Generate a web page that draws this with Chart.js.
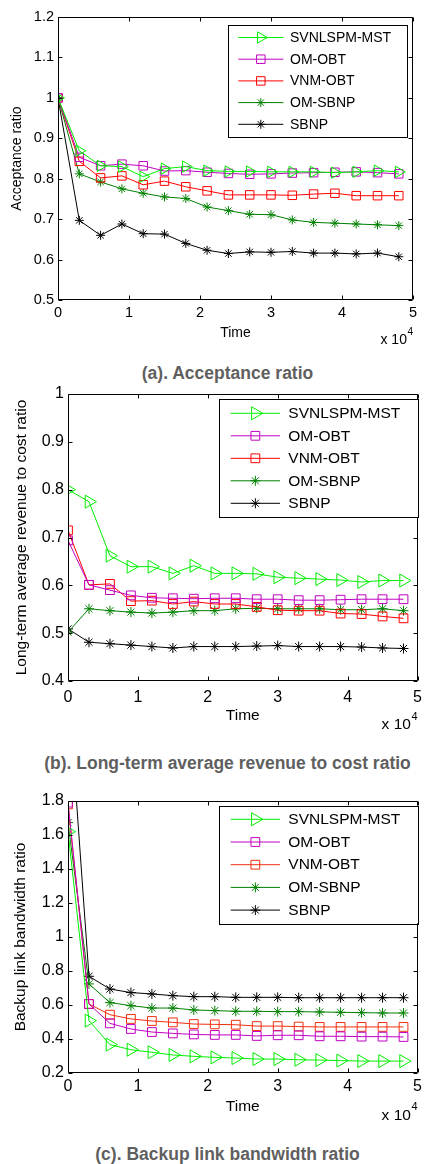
<!DOCTYPE html>
<html>
<head>
<meta charset="utf-8">
<script src="https://cdn.jsdelivr.net/npm/chart.js@4.4.1/dist/chart.umd.min.js"></script>
<style>
  html, body { margin: 0; padding: 0; background: #fff; }
  body { width: 426px; height: 1164px; position: relative; overflow: hidden;
         font-family: 'Liberation Sans', Arial, sans-serif; }
  canvas { position: absolute; left: 0; }
  .cap { position: absolute; left: 27.5px; width: 400px; text-align: center;
         font-weight: bold; font-size: 17.5px; line-height: 20px; color: #5f5f5f; white-space: nowrap; }
</style>
</head>
<body>
<canvas id="chartA" width="426" height="355" style="top:0px"></canvas>
<div class="cap" style="top:362.7px">(a). Acceptance ratio</div>
<canvas id="chartB" width="426" height="355" style="top:380px"></canvas>
<div class="cap" style="top:753.3px">(b). Long-term average revenue to cost ratio</div>
<canvas id="chartC" width="426" height="345" style="top:785px"></canvas>
<div class="cap" style="top:1144px">(c). Backup link bandwidth ratio</div>

<script>
// Simulation time (units of 10^4)
const times = [0, 0.3, 0.6, 0.9, 1.2, 1.5, 1.8, 2.1, 2.4, 2.7, 3.0, 3.3, 3.6, 3.9, 4.2, 4.5, 4.8];

const seriesNames = ['SVNLSPM-MST', 'OM-OBT', 'VNM-OBT', 'OM-SBNP', 'SBNP'];

// (a) Acceptance ratio
const accSvnlspm = [1.000, 0.869, 0.832, 0.830, 0.805, 0.825, 0.830, 0.820, 0.818, 0.818, 0.817, 0.817, 0.817, 0.815, 0.817, 0.820, 0.817];
const accOmObt   = [1.000, 0.853, 0.832, 0.836, 0.832, 0.819, 0.820, 0.816, 0.813, 0.811, 0.812, 0.814, 0.815, 0.816, 0.817, 0.815, 0.812];
const accVnmObt  = [1.000, 0.843, 0.802, 0.807, 0.785, 0.794, 0.780, 0.770, 0.760, 0.760, 0.760, 0.759, 0.762, 0.764, 0.758, 0.758, 0.758];
const accOmSbnp  = [1.000, 0.812, 0.792, 0.775, 0.764, 0.755, 0.751, 0.730, 0.721, 0.712, 0.711, 0.698, 0.692, 0.690, 0.688, 0.686, 0.684];
const accSbnp    = [1.000, 0.697, 0.660, 0.688, 0.664, 0.663, 0.640, 0.623, 0.615, 0.619, 0.618, 0.620, 0.616, 0.616, 0.614, 0.616, 0.607];

// (b) Long-term average revenue to cost ratio
const revSvnlspm = [0.800, 0.775, 0.662, 0.639, 0.639, 0.625, 0.641, 0.625, 0.625, 0.624, 0.617, 0.615, 0.613, 0.611, 0.607, 0.610, 0.610];
const revOmObt   = [0.694, 0.601, 0.590, 0.579, 0.574, 0.573, 0.572, 0.573, 0.573, 0.571, 0.571, 0.569, 0.569, 0.570, 0.571, 0.571, 0.571];
const revVnmObt  = [0.715, 0.601, 0.603, 0.567, 0.568, 0.561, 0.566, 0.561, 0.561, 0.555, 0.548, 0.547, 0.547, 0.541, 0.540, 0.535, 0.531];
const revOmSbnp  = [0.502, 0.551, 0.547, 0.544, 0.542, 0.544, 0.547, 0.547, 0.551, 0.552, 0.551, 0.551, 0.551, 0.549, 0.549, 0.551, 0.547];
const revSbnp    = [0.509, 0.481, 0.478, 0.475, 0.472, 0.469, 0.472, 0.472, 0.472, 0.473, 0.474, 0.472, 0.472, 0.472, 0.471, 0.469, 0.468];

// (c) Backup link bandwidth ratio
const bwSvnlspm = [1.620, 0.508, 0.367, 0.337, 0.322, 0.306, 0.298, 0.292, 0.288, 0.282, 0.282, 0.278, 0.276, 0.273, 0.270, 0.270, 0.270];
const bwOmObt   = [1.790, 0.606, 0.492, 0.459, 0.441, 0.433, 0.427, 0.424, 0.424, 0.418, 0.422, 0.422, 0.416, 0.416, 0.414, 0.414, 0.412];
const bwVnmObt  = [1.780, 0.606, 0.543, 0.518, 0.506, 0.498, 0.488, 0.486, 0.484, 0.476, 0.476, 0.473, 0.471, 0.471, 0.471, 0.471, 0.471];
const bwOmSbnp  = [1.673, 0.724, 0.614, 0.596, 0.582, 0.582, 0.571, 0.567, 0.563, 0.563, 0.561, 0.561, 0.559, 0.557, 0.555, 0.553, 0.553];
const bwSbnp    = [2.500, 0.769, 0.694, 0.673, 0.665, 0.655, 0.649, 0.649, 0.645, 0.645, 0.645, 0.643, 0.643, 0.643, 0.643, 0.643, 0.643];

// Axis tick settings
const xTicks = { min: 0, max: 5, step: 1 };
const yTicksA = { min: 0.5, max: 1.2, step: 0.1 };
const yTicksB = { min: 0.4, max: 1.0, step: 0.1 };
const yTicksC = { min: 0.2, max: 1.8, step: 0.2 };

const FONT = "'Liberation Sans', Arial, sans-serif";
Chart.defaults.font.family = FONT;
Chart.defaults.color = '#000';

// MATLAB-like line styles for each method
function styles(s) {
  return [
    { color: '#00ee00', pointStyle: 'triangle', rot: 90, r: s.tri },
    { color: '#c000c0', pointStyle: 'rect', rot: 0, r: s.sq },
    { color: s.red || '#ff0000', pointStyle: 'rect', rot: 0, r: s.sq },
    { color: '#008000', pointStyle: 'star', rot: 0, r: s.star },
    { color: '#000000', pointStyle: 'star', rot: 0, r: s.star }
  ];
}

function makeDatasets(seriesList, s) {
  const st = styles(s);
  return seriesList.map((vals, i) => ({
    label: seriesNames[i],
    data: times.map((t, k) => ({ x: t, y: vals[k] })),
    borderColor: st[i].color,
    borderWidth: 1,
    pointStyle: st[i].pointStyle,
    pointRotation: st[i].rot,
    pointRadius: st[i].r,
    pointBorderColor: st[i].color,
    pointBackgroundColor: 'rgba(0,0,0,0)',
    pointBorderWidth: 1,
    tension: 0,
    fill: false
  }));
}

// Box, inner tick marks, axis titles, exponent and legend in MATLAB style
const matlabAxes = {
  id: 'matlabAxes',
  afterDatasetsDraw(chart, args, o) {
    const { ctx, chartArea: a } = chart;
    const xs = chart.scales.x, ys = chart.scales.y;
    const L = Math.round(a.left) + 0.5, R = Math.round(a.right) - 0.5;
    const T = Math.round(a.top) + 0.5, B = Math.round(a.bottom) - 0.5;
    ctx.save();
    ctx.strokeStyle = '#000';
    ctx.lineWidth = 1;
    ctx.beginPath();
    const tk = 4;
    xs.ticks.forEach(t => {
      const p = Math.round(xs.getPixelForValue(t.value)) + 0.5;
      ctx.moveTo(p, B); ctx.lineTo(p, B - tk);
      ctx.moveTo(p, T); ctx.lineTo(p, T + tk);
    });
    ys.ticks.forEach(t => {
      const p = Math.round(ys.getPixelForValue(t.value)) + 0.5;
      ctx.moveTo(L, p); ctx.lineTo(L + tk, p);
      ctx.moveTo(R, p); ctx.lineTo(R - tk, p);
    });
    ctx.rect(L, T, R - L, B - T);
    ctx.stroke();

    // axis titles
    ctx.fillStyle = '#000';
    ctx.textBaseline = 'middle';
    ctx.font = o.titleSize + 'px ' + FONT;
    ctx.textAlign = 'center';
    ctx.fillText('Time', (a.left + a.right) / 2, a.bottom + o.timeOff);
    ctx.save();
    ctx.translate(o.yTitleX, (a.top + a.bottom) / 2);
    ctx.rotate(-Math.PI / 2);
    ctx.fillText(o.yTitle, 0, 0);
    ctx.restore();

    // x 10^4 exponent
    ctx.font = o.expSupSize + 'px ' + FONT;
    const w4 = ctx.measureText('4').width;
    ctx.textAlign = 'left';
    ctx.fillText('4', a.right - w4, a.bottom + o.expOff - o.expRaise);
    ctx.font = o.titleSize + 'px ' + FONT;
    ctx.textAlign = 'right';
    ctx.fillText('x 10', a.right - w4 - 0.5, a.bottom + o.expOff);

    // legend
    const lg = o.legend;
    ctx.fillStyle = '#fff';
    ctx.fillRect(lg.x1, lg.y1, lg.x2 - lg.x1, lg.y2 - lg.y1);
    ctx.strokeStyle = '#000';
    ctx.lineWidth = 1;
    ctx.strokeRect(Math.round(lg.x1) + 0.5, Math.round(lg.y1) + 0.5,
                   Math.round(lg.x2 - lg.x1), Math.round(lg.y2 - lg.y1));
    chart.data.datasets.forEach((ds, i) => {
      const y = lg.y1 + lg.first + i * lg.gap;
      ctx.strokeStyle = ds.borderColor;
      ctx.lineWidth = ds.borderWidth;
      ctx.beginPath();
      ctx.moveTo(lg.lx1, y);
      ctx.lineTo(lg.lx2, y);
      ctx.stroke();
      ctx.fillStyle = 'rgba(0,0,0,0)';
      ctx.strokeStyle = ds.pointBorderColor;
      ctx.lineWidth = 1;
      Chart.helpers.drawPoint(ctx, {
        pointStyle: ds.pointStyle, rotation: ds.pointRotation,
        radius: ds.pointRadius, borderWidth: 1
      }, (lg.lx1 + lg.lx2) / 2, y);
      ctx.fillStyle = '#000';
      ctx.font = lg.font + 'px ' + FONT;
      ctx.textAlign = 'left';
      ctx.textBaseline = 'middle';
      ctx.fillText(ds.label, lg.tx, y + 0.5);
    });
    ctx.restore();
  }
};

function makeChart(id, seriesList, yT, cfg) {
  const fmt = v => String(Number(v.toFixed(2)));
  return new Chart(document.getElementById(id), {
    type: 'line',
    data: { datasets: makeDatasets(seriesList, cfg.marker) },
    plugins: [matlabAxes],
    options: {
      responsive: false,
      animation: false,
      events: [],
      layout: { padding: { top: cfg.padTop, right: cfg.padRight, left: 0, bottom: 0 } },
      scales: {
        x: {
          type: 'linear', min: xTicks.min, max: xTicks.max,
          ticks: { stepSize: xTicks.step, padding: cfg.xPad, maxRotation: 0, autoSkip: false,
                   font: { size: cfg.tickSize }, callback: fmt },
          grid: { display: false, drawTicks: false }, border: { display: false },
          afterFit(s) { s.height = cfg.xH; s.paddingLeft = 0; s.paddingRight = 0; }
        },
        y: {
          type: 'linear', min: yT.min, max: yT.max,
          ticks: { stepSize: yT.step, padding: 4, font: { size: cfg.tickSize }, callback: fmt },
          grid: { display: false, drawTicks: false }, border: { display: false },
          afterFit(s) { s.width = cfg.yW; s.paddingTop = 0; s.paddingBottom = 0; }
        }
      },
      plugins: {
        legend: { display: false },
        tooltip: { enabled: false },
        matlabAxes: {
          yTitle: cfg.yTitle, yTitleX: cfg.yTitleX, titleSize: cfg.titleSize,
          timeOff: cfg.timeOff, expOff: cfg.expOff, expRaise: cfg.expRaise, expSupSize: cfg.expSupSize,
          legend: cfg.legend
        }
      }
    }
  });
}

makeChart('chartA', [accSvnlspm, accOmObt, accVnmObt, accOmSbnp, accSbnp], yTicksA, {
  padTop: 17, padRight: 13, yW: 58, xH: 55, xPad: 4.6, tickSize: 14.5,
  yTitle: 'Acceptance ratio', yTitleX: 16.7, titleSize: 14,
  timeOff: 32.7, expOff: 40, expRaise: 8, expSupSize: 10,
  marker: { tri: 6.5, sq: 6, star: 4.5 },
  legend: { x1: 228.3, y1: 25, x2: 407.3, y2: 137.3, first: 12.5, gap: 21.7,
            lx1: 238.3, lx2: 283.3, tx: 290, font: 14 }
});

makeChart('chartB', [revSvnlspm, revOmObt, revVnmObt, revOmSbnp, revSbnp], yTicksB, {
  padTop: 14, padRight: 2, yW: 68, xH: 54, xPad: 6.7, tickSize: 16,
  yTitle: 'Long-term average revenue to cost ratio', yTitleX: 21.7, titleSize: 15.5,
  timeOff: 34.7, expOff: 44, expRaise: 8.5, expSupSize: 11,
  marker: { tri: 7.5, sq: 6.2, star: 5 },
  legend: { x1: 219.3, y1: 19, x2: 418.3, y2: 137, first: 14.3, gap: 22.5,
            lx1: 230.7, lx2: 280, tx: 288.3, font: 15.5 }
});

makeChart('chartC', [bwSvnlspm, bwOmObt, bwVnmObt, bwOmSbnp, bwSbnp], yTicksC, {
  padTop: 16, padRight: 2, yW: 68, xH: 57, xPad: 4.4, tickSize: 16,
  yTitle: 'Backup link bandwidth ratio', yTitleX: 20.7, titleSize: 15.5,
  timeOff: 34, expOff: 42.3, expRaise: 8.5, expSupSize: 11,
  marker: { tri: 7.5, sq: 6.2, star: 5, red: '#f03010' },
  legend: { x1: 219.3, y1: 20.7, x2: 418.3, y2: 138.3, first: 13.6, gap: 22.7,
            lx1: 230.7, lx2: 280, tx: 288.3, font: 15.5 }
});
</script>
</body>
</html>
